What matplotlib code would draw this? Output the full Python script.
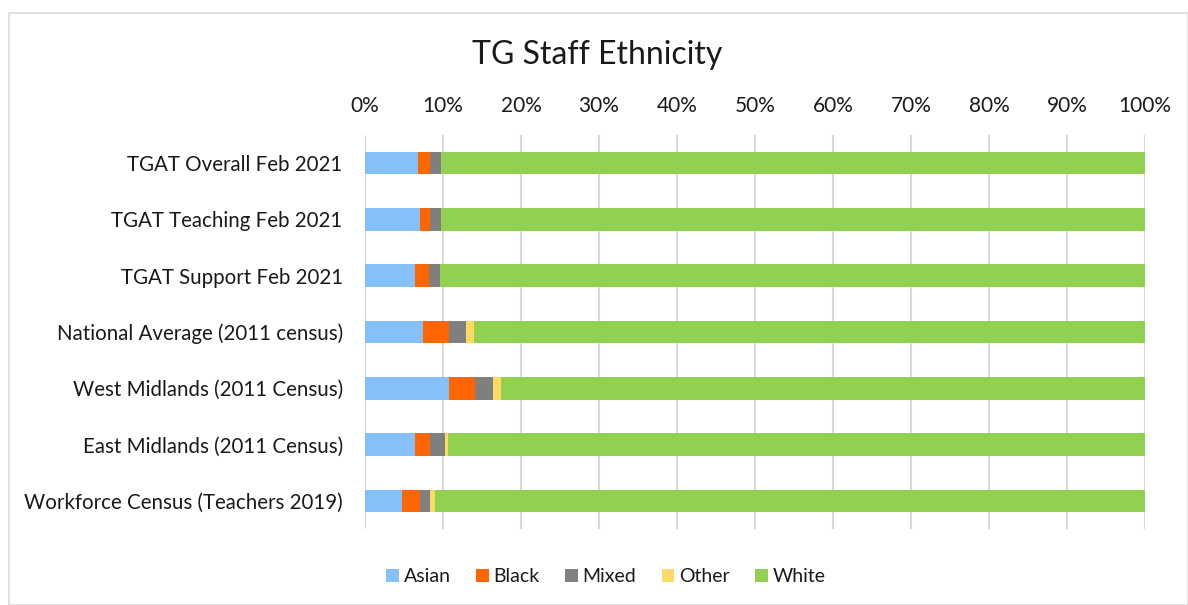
import numpy as np
import matplotlib.pyplot as plt
from matplotlib.patches import Rectangle

plt.rcParams['font.family'] = ['Lato', 'DejaVu Sans']

categories = ['TGAT Overall Feb 2021', 'TGAT Teaching Feb 2021', 'TGAT Support Feb 2021',
              'National Average (2011 census)', 'West Midlands (2011 Census)',
              'East Midlands (2011 Census)', 'Workforce Census (Teachers 2019)']
asian = [6.8, 7.1, 6.45, 7.5, 10.8, 6.4, 4.7]
black = [1.6, 1.3, 1.8, 3.3, 3.35, 2.0, 2.3]
mixed = [1.3, 1.3, 1.4, 2.15, 2.3, 1.8, 1.4]
other = [0.0, 0.0, 0.0, 1.05, 1.0, 0.5, 0.6]
white = [100 - a - b - m - o for a, b, m, o in zip(asian, black, mixed, other)]

series = [('Asian', asian, '#85C0F9'), ('Black', black, '#FF6600'),
          ('Mixed', mixed, '#7F7F7F'), ('Other', other, '#FFD966'),
          ('White', white, '#92D050')]

fig = plt.figure(figsize=(11.88, 6.05), dpi=100)
ax = fig.add_axes([0.3072, 0.1256, 0.9638 - 0.3072, 0.7769 - 0.1256])

y = np.arange(len(categories))
left = np.zeros(len(categories))
for name, vals, col in series:
    ax.barh(y, vals, left=left, height=0.4, color=col, label=name, zorder=3)
    left += np.array(vals)

ax.set_xlim(0, 100)
ax.set_ylim(len(categories) - 0.5, -0.5)
ax.set_yticks(y)
ax.set_yticklabels(categories, fontsize=14.8)
ax.set_xticks(np.arange(0, 101, 10))
ax.set_xticklabels(['%d%%' % v for v in range(0, 101, 10)], fontsize=15)
ax.xaxis.tick_top()
ax.tick_params(axis='y', length=0, pad=16, colors='#1a1a1a')
ax.tick_params(axis='x', length=0, pad=14, colors='#1a1a1a')
ax.grid(axis='x', color='#D9D9D9', linewidth=1.5, zorder=0)
for s in ax.spines.values():
    s.set_visible(False)

fig.text(597 / 1188, 1 - 55 / 605, 'TG Staff Ethnicity', fontsize=23, ha='center', va='center',
         color='#1a1a1a')
fig.legend(loc='center', bbox_to_anchor=(606 / 1188, 1 - 577 / 605), ncol=5, frameon=False,
           fontsize=14, handlelength=0.65, handleheight=0.65, handletextpad=0.25,
           columnspacing=1.3, labelcolor='#1a1a1a')

fig.patches.append(Rectangle((8.5 / 1188, 0), 1 - 8.5 / 1188, 1 - 12.5 / 605,
                             transform=fig.transFigure, fill=False, edgecolor='#D9D9D9',
                             linewidth=1.2))

plt.savefig('out.png', dpi=100)
